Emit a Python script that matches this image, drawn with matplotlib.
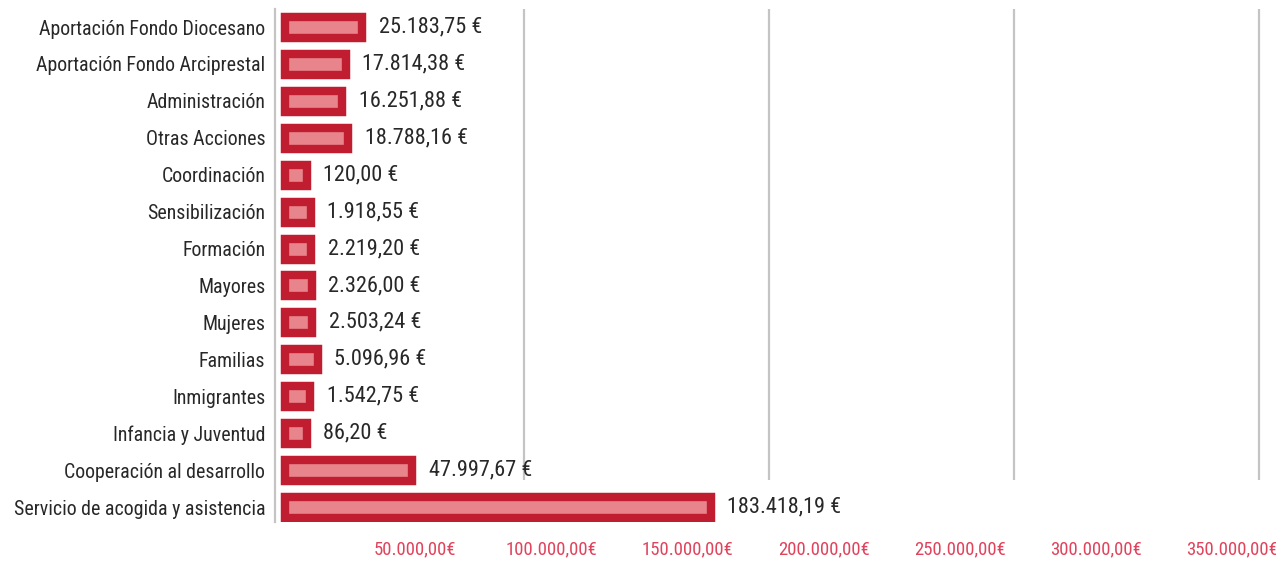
import matplotlib.pyplot as plt

# datos del gráfico (euros)
categories = ['Aportación Fondo Diocesano', 'Aportación Fondo Arciprestal', 'Administración',
              'Otras Acciones', 'Coordinación', 'Sensibilización', 'Formación', 'Mayores',
              'Mujeres', 'Familias', 'Inmigrantes', 'Infancia y Juventud',
              'Cooperación al desarrollo', 'Servicio de acogida y asistencia']
values = [25183.75, 17814.38, 16251.88, 18788.16, 120.00, 1918.55, 2219.20, 2326.00,
          2503.24, 5096.96, 1542.75, 86.20, 47997.67, 183418.19]
tick_values = [50000, 100000, 150000, 200000, 250000, 300000, 350000]
grid_values = [90000, 180000, 270000, 360000]

plt.rcParams['font.family'] = ['Roboto Condensed', 'DejaVu Sans']
plt.rcParams['font.stretch'] = 'condensed'

RED = '#c01e30'
PINK = '#e8848c'
TEXT = '#282828'


def euro(v, sep=' '):
    s = f'{v:,.2f}'.replace(',', 'X').replace('.', ',').replace('X', '.')
    return s + sep + '€'


fig = plt.figure(figsize=(12.76, 5.61), dpi=100)
ax = fig.add_axes([275 / 1276, 39 / 561, 1000 / 1276, 513 / 561])
ax.set_xlim(-1395, 365712)
ax.set_ylim(13.406, -0.4875)

# escala inferior y rejilla
ax.set_xticks(tick_values, [euro(t, '') for t in tick_values])
ax.tick_params(axis='x', length=0, pad=13, labelsize=13.5, labelcolor='#e0435c')
ax.vlines(grid_values, 0.082, 1, transform=ax.get_xaxis_transform(),
          color='#c4c4c4', lw=1.6, zorder=0)

ax.set_yticks(range(len(categories)), categories)
ax.tick_params(axis='y', length=0, pad=7, labelsize=14.3, labelcolor=TEXT)
for side in ['top', 'right', 'bottom']:
    ax.spines[side].set_visible(False)
ax.spines['left'].set_color('#c4c4c4')
ax.spines['left'].set_linewidth(1.6)

# barras: trazo grueso con extremos proyectados (marco rojo + interior rosa)
axb = ax.twiny()
axb.set_xlim(-9257, 444525)
axb.set_ylim(13.406, -0.4875)
axb.axis('off')
y = list(range(len(values)))
axb.hlines(y, 0, values, color=RED, lw=21.2, capstyle='projecting')
axb.hlines(y, 0, values, color=PINK, lw=9.1, capstyle='projecting')

for i, v in enumerate(values):
    axb.annotate(euro(v), xy=(v, i), xytext=(20, 0), textcoords='offset points',
                 va='center', ha='left', fontsize=16, color=TEXT)

fig.savefig('out.png', dpi=100)
